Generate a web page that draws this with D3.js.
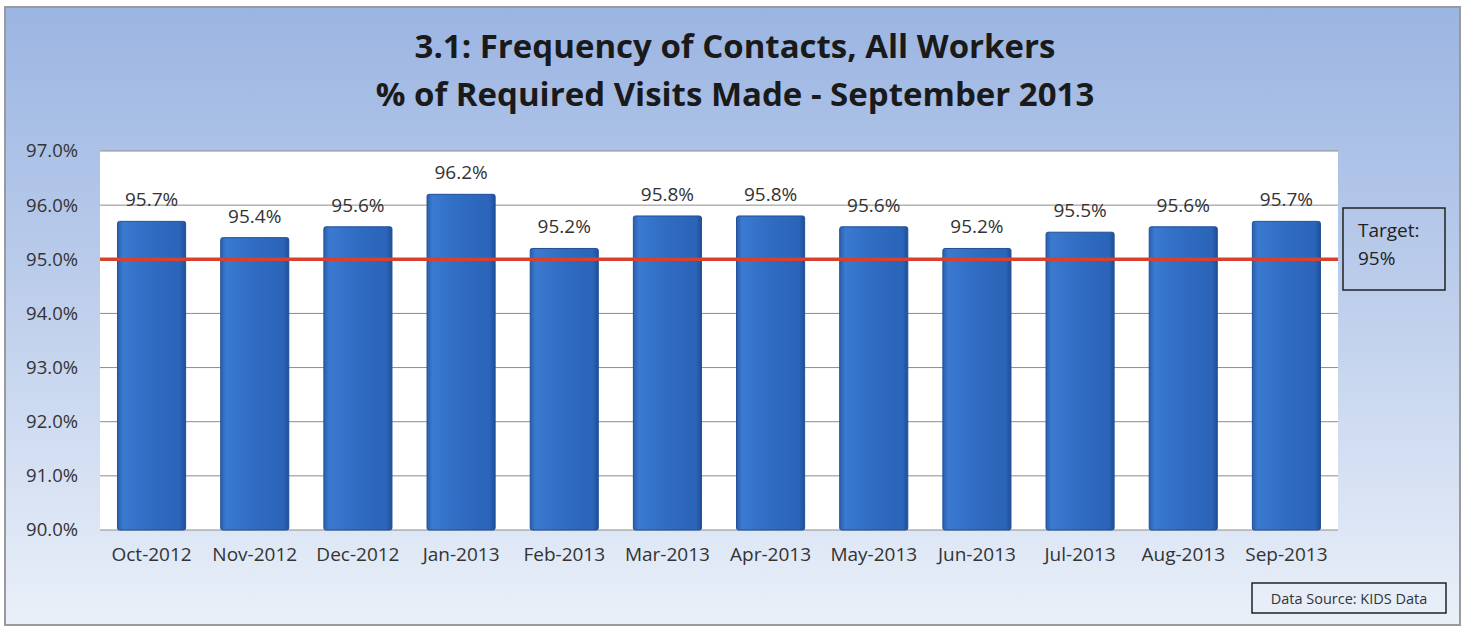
<!DOCTYPE html>
<html>
<head>
<meta charset="utf-8">
<script src="https://cdn.jsdelivr.net/npm/d3@7"></script>
<style>
  body { margin: 0; background: #fff; }
  svg { display: block; font-family: "Open Sans", "Lato", sans-serif; }
</style>
</head>
<body>
<div id="chart"></div>
<script>
// Chart values
const months = ["Oct-2012", "Nov-2012", "Dec-2012", "Jan-2013", "Feb-2013", "Mar-2013",
                "Apr-2013", "May-2013", "Jun-2013", "Jul-2013", "Aug-2013", "Sep-2013"];
const visitPct = [95.7, 95.4, 95.6, 96.2, 95.2, 95.8, 95.8, 95.6, 95.2, 95.5, 95.6, 95.7];
const yTicks = [90, 91, 92, 93, 94, 95, 96, 97];
const target = 95;
const titleLines = ["3.1: Frequency of Contacts, All Workers", "% of Required Visits Made - September 2013"];

const width = 1465, height = 630;
const plot = { left: 100, right: 1338, top: 151, bottom: 530 };

const svg = d3.select("#chart").append("svg")
    .attr("width", width)
    .attr("height", height);

// Background gradient and bar gradient
const defs = svg.append("defs");
const bg = defs.append("linearGradient").attr("id", "bg").attr("x1", 0).attr("y1", 0).attr("x2", 0).attr("y2", 1);
bg.append("stop").attr("offset", "0%").attr("stop-color", "#9bb5e2");
bg.append("stop").attr("offset", "45%").attr("stop-color", "#bccdeb");
bg.append("stop").attr("offset", "100%").attr("stop-color", "#eaf0f9");

const barGrad = defs.append("linearGradient").attr("id", "barGrad").attr("x1", 0).attr("y1", 0).attr("x2", 1).attr("y2", 0);
barGrad.append("stop").attr("offset", "0%").attr("stop-color", "#2a5fae");
barGrad.append("stop").attr("offset", "8%").attr("stop-color", "#3a7ad0");
barGrad.append("stop").attr("offset", "50%").attr("stop-color", "#2f6cc2");
barGrad.append("stop").attr("offset", "92%").attr("stop-color", "#2b64b8");
barGrad.append("stop").attr("offset", "100%").attr("stop-color", "#1f4f98");

svg.append("rect")
    .attr("x", 5).attr("y", 7)
    .attr("width", width - 10).attr("height", height - 12)
    .attr("fill", "url(#bg)")
    .attr("stroke", "#9a9a9a")
    .attr("stroke-width", 2);

// Title
svg.append("g").selectAll("text")
    .data(titleLines)
    .join("text")
    .attr("x", 735)
    .attr("y", (d, i) => 58 + i * 48)
    .attr("text-anchor", "middle")
    .attr("font-size", "33px")
    .attr("font-weight", "bold")
    .attr("fill", "#1a1a1a")
    .text(d => d);

// Scales
const x = d3.scaleBand()
    .domain(months)
    .range([plot.left, plot.right])
    .paddingInner(0.34)
    .paddingOuter(0.17);
const y = d3.scaleLinear()
    .domain([90, 97])
    .range([plot.bottom, plot.top]);

// Plot area
svg.append("rect")
    .attr("x", plot.left).attr("y", plot.top)
    .attr("width", plot.right - plot.left).attr("height", plot.bottom - plot.top)
    .attr("fill", "#fff");

// Gridlines
svg.append("g")
    .selectAll("line")
    .data(yTicks)
    .join("line")
    .attr("x1", plot.left).attr("x2", plot.right)
    .attr("y1", d => y(d)).attr("y2", d => y(d))
    .attr("stroke", "#8c8c8c")
    .attr("stroke-width", 1);

// Y axis labels
const yAxis = svg.append("g")
    .attr("transform", `translate(${plot.left - 19},0)`)
    .call(d3.axisLeft(y).tickValues(yTicks).tickFormat(d => d.toFixed(1) + "%").tickSize(0));
yAxis.select(".domain").remove();
yAxis.selectAll("text")
    .attr("font-family", "\"Open Sans\", sans-serif")
    .attr("font-size", "18.5px")
    .attr("fill", "#333");

// X axis labels
const xAxis = svg.append("g")
    .attr("transform", `translate(0,${plot.bottom + 7})`)
    .call(d3.axisBottom(x).tickSize(0));
xAxis.select(".domain").remove();
xAxis.selectAll("text")
    .attr("font-family", "\"Open Sans\", sans-serif")
    .attr("font-size", "19px")
    .attr("fill", "#333")
    .attr("dy", "1.1em");

// Bars
const data = months.map((m, i) => ({ month: m, value: visitPct[i] }));
svg.append("g")
    .selectAll("rect")
    .data(data)
    .join("rect")
    .attr("x", d => x(d.month))
    .attr("y", d => y(d.value))
    .attr("width", x.bandwidth())
    .attr("height", d => y(90) - y(d.value))
    .attr("rx", 2)
    .attr("fill", "url(#barGrad)")
    .attr("stroke", "#1f4f98")
    .attr("stroke-width", 1);

// Bar labels
svg.append("g")
    .selectAll("text")
    .data(data)
    .join("text")
    .attr("x", d => x(d.month) + x.bandwidth() / 2)
    .attr("y", d => y(d.value) - 15)
    .attr("text-anchor", "middle")
    .attr("font-size", "19px")
    .attr("fill", "#333")
    .text(d => d.value.toFixed(1) + "%");

// Target line
svg.append("line")
    .attr("x1", plot.left).attr("x2", plot.right)
    .attr("y1", y(target)).attr("y2", y(target))
    .attr("stroke", "#d8412e")
    .attr("stroke-width", 3.5);

// Target box
svg.append("rect")
    .attr("x", 1343).attr("y", 208)
    .attr("width", 102).attr("height", 82)
    .attr("fill", "none")
    .attr("stroke", "#222")
    .attr("stroke-width", 1.5);
svg.append("text")
    .attr("x", 1358).attr("y", 237)
    .attr("font-size", "19px")
    .attr("fill", "#222")
    .text("Target:");
svg.append("text")
    .attr("x", 1358).attr("y", 265)
    .attr("font-size", "19px")
    .attr("fill", "#222")
    .text(target + "%");

// Data source box
svg.append("rect")
    .attr("x", 1252).attr("y", 583)
    .attr("width", 194).attr("height", 30)
    .attr("fill", "none")
    .attr("stroke", "#222")
    .attr("stroke-width", 1.5);
svg.append("text")
    .attr("x", 1349).attr("y", 604)
    .attr("text-anchor", "middle")
    .attr("font-size", "14.5px")
    .attr("fill", "#333")
    .text("Data Source: KIDS Data");
</script>
</body>
</html>
